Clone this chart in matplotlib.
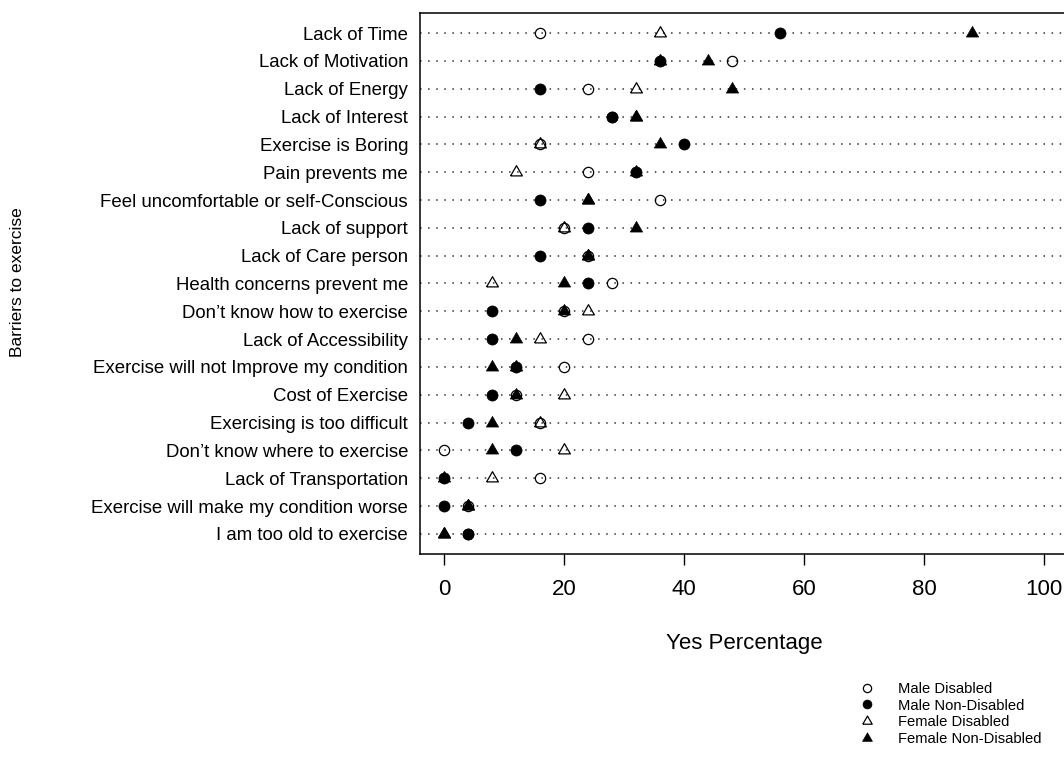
import numpy as np
import matplotlib
matplotlib.use('Agg')
import matplotlib.pyplot as plt

plt.rcParams['font.family'] = ['Liberation Sans', 'DejaVu Sans']

barriers = ['Lack of Time', 'Lack of Motivation', 'Lack of Energy', 'Lack of Interest',
            'Exercise is Boring', 'Pain prevents me', 'Feel uncomfortable or self-Conscious',
            'Lack of support', 'Lack of Care person', 'Health concerns prevent me',
            'Don\u2019t know how to exercise', 'Lack of Accessibility',
            'Exercise will not Improve my condition', 'Cost of Exercise',
            'Exercising is too difficult', 'Don\u2019t know where to exercise',
            'Lack of Transportation', 'Exercise will make my condition worse',
            'I am too old to exercise']

male_disabled = [16, 48, 24, 28, 16, 24, 36, 20, 24, 28, 20, 24, 20, 12, 16, 0, 16, 4, 4]
male_non_disabled = [56, 36, 16, 28, 40, 32, 16, 24, 16, 24, 8, 8, 12, 8, 4, 12, 0, 0, 4]
female_disabled = [36, 36, 32, 32, 16, 12, 24, 20, 24, 8, 24, 16, 12, 20, 16, 20, 8, 4, 0]
female_non_disabled = [88, 44, 48, 32, 36, 32, 24, 32, 24, 20, 20, 12, 8, 12, 8, 8, 0, 4, 0]

group_names = ['Male Disabled', 'Male Non-Disabled', 'Female Disabled', 'Female Non-Disabled']

# equilateral triangle like R's pch 2 / 17
tri = [(-1, -0.577), (1, -0.577), (0, 1.155), (-1, -0.577)]

n = len(barriers)
rows = np.arange(n, 0, -1)

fig = plt.figure(figsize=(10.64, 7.67), dpi=100)
ax = fig.add_axes([420 / 1064, 213 / 767, 648 / 1064, 541 / 767])

ax.hlines(rows, -4, 104, colors='#333333', linewidth=1.1, linestyles=(0, (1, 4.3)), zorder=1)

ax.plot(male_disabled, rows, linestyle='none', marker='o', ms=7.4, mfc='none',
        mec='black', mew=0.9, label=group_names[0], zorder=3)
ax.plot(male_non_disabled, rows, linestyle='none', marker='o', ms=8.0, mfc='black',
        mec='black', mew=0.5, label=group_names[1], zorder=4)
ax.plot(female_disabled, rows, linestyle='none', marker=tri, ms=9.8, mfc='none',
        mec='black', mew=0.9, label=group_names[2], zorder=5)
ax.plot(female_non_disabled, rows, linestyle='none', marker=tri, ms=10.2, mfc='black',
        mec='black', mew=0.5, label=group_names[3], zorder=6)

ax.set_xlim(-4, 104)
ax.set_ylim(1 - 0.72, n + 0.72)
ax.set_xticks([0, 20, 40, 60, 80, 100])
ax.tick_params(axis='x', labelsize=16, length=8, width=1, pad=10, direction='out')
ax.set_yticks(rows)
ax.set_yticklabels(barriers)
ax.tick_params(axis='y', labelsize=13.4, length=0, pad=8.6)
for s in ax.spines.values():
    s.set_linewidth(1.1)

ax.set_xlabel('Yes Percentage', fontsize=16, labelpad=24)
fig.text(17.5 / 1064, 1 - 282 / 767, 'Barriers to exercise', rotation=90,
         ha='center', va='center', fontsize=12.5)

ax.legend(loc='upper left', bbox_to_anchor=(860 / 1064, 1 - 682 / 767),
          bbox_transform=fig.transFigure, frameon=False, fontsize=10.6,
          handlelength=1.0, handletextpad=1.6, labelspacing=0.18,
          borderpad=0, borderaxespad=0, markerscale=0.8)

fig.savefig('out.png', dpi=100)
